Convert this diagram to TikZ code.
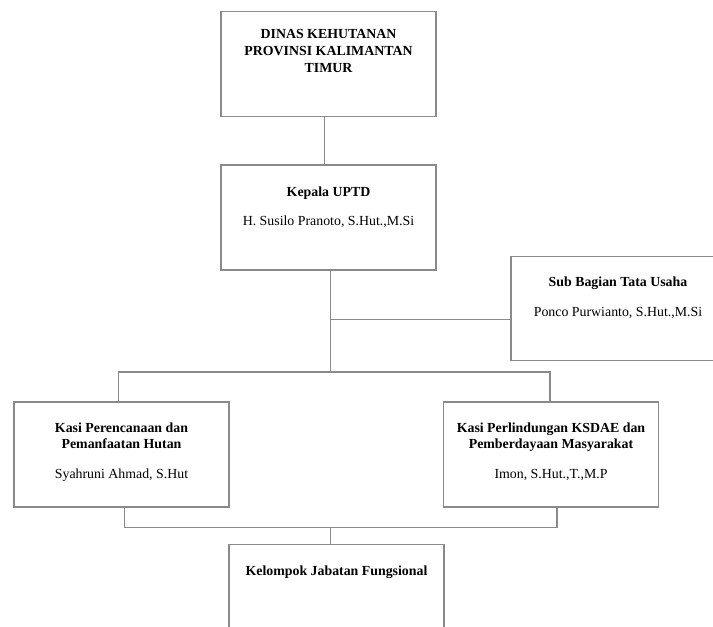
\documentclass[tikz,border=0pt]{standalone}
\usepackage{fontspec}
\setmainfont{Liberation Serif}
\definecolor{linegray}{HTML}{8A8A8A}
\begin{document}
\begin{tikzpicture}[x=0.75pt,y=-0.75pt,
  orgbox/.style={draw=linegray, line width=0.8pt, rectangle, inner sep=0pt,
    minimum width=161.25pt, minimum height=79pt},
  conn/.style={draw=linegray, line width=0.8pt},
  txt/.style={font=\fontsize{10.4}{12.6}\selectfont, align=center, inner sep=0pt, anchor=base},
  bt/.style={txt, font=\fontsize{10.4}{12.6}\selectfont\bfseries}]
\useasboundingbox (0,0) rectangle (713,627);
\clip (0,0) rectangle (713,627);
% boxes
\node[orgbox] (dinas) at (328.5,64) {};
\node[orgbox, minimum height=78.75pt] (kepala) at (328.5,217.5) {};
\node[orgbox, minimum width=160.5pt, minimum height=78pt] (sub) at (618,308.5) {};
\node[orgbox, minimum height=78.75pt] (perenc) at (121.5,454.5) {};
\node[orgbox, minimum height=78.75pt] (perlind) at (551,454.5) {};
\node[orgbox] (kjf) at (336.5,597) {};
% texts
\node[bt] (t1) at (328.5,39) {DINAS KEHUTANAN};
\node[bt] (t2) at (328.5,56) {PROVINSI KALIMANTAN};
\node[bt] (t3) at (328.5,73) {TIMUR};
\node[bt] (k1) at (328.5,197) {Kepala UPTD};
\node[txt] (k2) at (328.5,226) {H. Susilo Pranoto, S.Hut.,M.Si};
\node[bt] (s1) at (618,286) {Sub Bagian Tata Usaha};
\node[txt] (s2) at (618,316) {Ponco Purwianto, S.Hut.,M.Si};
\node[bt] (p1) at (121.5,432) {Kasi Perencanaan dan};
\node[bt] (p2) at (121.5,448) {Pemanfaatan Hutan};
\node[txt] (p3) at (121.5,478) {Syahruni Ahmad, S.Hut};
\node[bt] (l1) at (551,432) {Kasi Perlindungan KSDAE dan};
\node[bt] (l2) at (551,448) {Pemberdayaan Masyarakat};
\node[txt] (l3) at (551,478) {Imon, S.Hut.,T.,M.P};
\node[bt] (j1) at (336.5,575) {Kelompok Jabatan Fungsional};
% connectors
\coordinate (trunkTop) at ([xshift=1.35pt]kepala.south);
\coordinate (hub) at (trunkTop |- 0,372);
\coordinate (branch) at (trunkTop |- 0,319.3);
\coordinate (hubL) at (118.7,372);
\coordinate (hubR) at (550,372);
\coordinate (botL) at (124.3,527.3);
\coordinate (botR) at (557,527.3);
\coordinate (botM) at (330.3,527.3);
\draw[conn] ([xshift=-2.85pt]dinas.south) -- ([xshift=-2.85pt]dinas.south |- kepala.north);
\draw[conn] (trunkTop) -- (hub);
\draw[conn] (branch) -- (sub.west |- branch);
\draw[conn] (hubL |- perenc.north) -- (hubL) -- (hubR) -- (hubR |- perlind.north);
\draw[conn] (botL |- perenc.south) -- (botL) -- (botR) -- (botR |- perlind.south);
\draw[conn] (botM) -- (botM |- kjf.north);
\end{tikzpicture}
\end{document}
